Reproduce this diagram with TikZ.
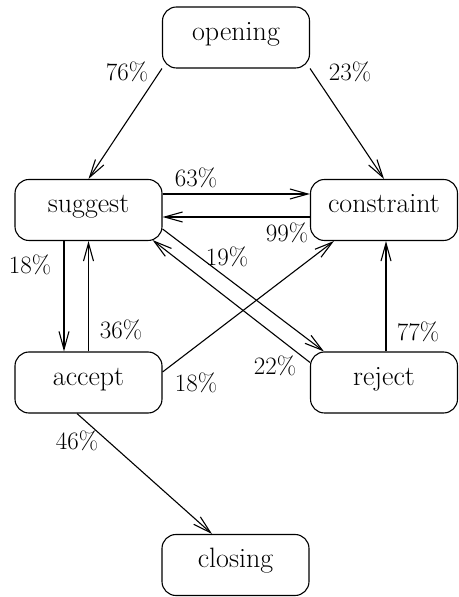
\documentclass[tikz,border=0pt]{standalone}
\usetikzlibrary{arrows.meta}
\begin{document}
\begin{tikzpicture}[x=1pt,y=1pt,line width=1.1pt,
  state/.style={draw, rounded corners=14pt, minimum width=147pt, minimum height=61pt,
    inner sep=0pt, text height=0.8em, text depth=0.25em, font=\fontsize{28}{34}\selectfont},
  prob/.style={inner sep=0pt, font=\fontsize{25}{30}\selectfont},
  trans/.style={-{Straight Barb[length=18pt,width=10pt]}}]
\useasboundingbox (0,0) rectangle (458,597);
\node [state] (opening) at (236,559.5) {opening};
\node [state] (suggest) at (88.5,387) {suggest};
\node [state] (constraint) at (384,387) {constraint};
\node [state] (accept) at (88.5,214.5) {accept};
\node [state] (reject) at (384,214.5) {reject};
\node [state] (closing) at (235.5,32) {closing};
\draw [trans] (opening.south west) -- (suggest.north);
\draw [trans] (opening.south east) -- (constraint.north);
\draw [trans] ([yshift=16pt]suggest.east) -- ([yshift=16pt]constraint.west);
\draw [trans] ([yshift=-7pt]constraint.west) -- ([yshift=-7pt]suggest.east);
\draw [trans] ([xshift=-24.5pt]suggest.south) -- ([xshift=-24.5pt]accept.north);
\draw [trans] (accept.north) -- (suggest.south);
\draw [trans] ([yshift=-19pt]suggest.east) -- ([xshift=14pt]reject.north west);
\draw [trans] ([yshift=-11pt]reject.north west) -- ([xshift=-10pt,yshift=1pt]suggest.south east);
\draw [trans] ([yshift=10.5pt]accept.east) -- ([xshift=24pt]constraint.south west);
\draw [trans] ([xshift=2pt]reject.north) -- ([xshift=2pt]constraint.south);
\draw [trans] ([xshift=-11.5pt]accept.south) -- ([xshift=-23.5pt]closing.north);
\node [prob] (p76) at (127,525) {76\%};
\node [prob] (p23) at (350,525) {23\%};
\node [prob] (p63) at (196,419) {63\%};
\node [prob] (p99) at (287,364.5) {99\%};
\node [prob] (p18a) at (30,332) {18\%};
\node [prob] (p36) at (121,267) {36\%};
\node [prob] (p19) at (227,340) {19\%};
\node [prob] (p22) at (275,231) {22\%};
\node [prob] (p18b) at (196,214) {18\%};
\node [prob] (p77) at (418,265) {77\%};
\node [prob] (p46) at (77,156) {46\%};
\end{tikzpicture}
\end{document}
